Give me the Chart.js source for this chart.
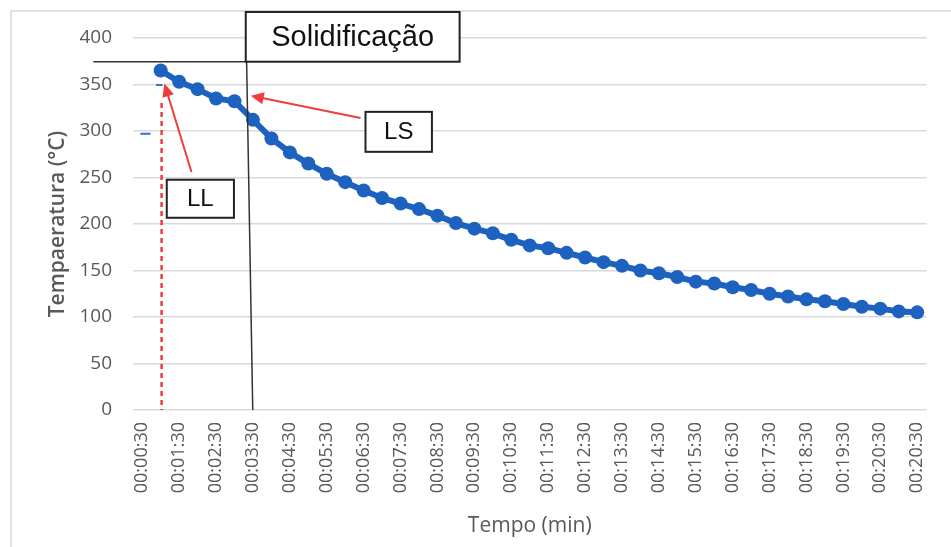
<!DOCTYPE html>
<html>
<head>
<meta charset="utf-8">
<script src="https://cdn.jsdelivr.net/npm/chart.js@4"></script>
<style>
  html, body { margin: 0; padding: 0; background: #fff; }
  #wrap { width: 951px; height: 547px; }
</style>
</head>
<body>
<div id="wrap"><canvas id="myChart" width="951" height="547"></canvas></div>
<script>
// tick labels shown on the x axis (one every two readings)
var tickLabels = [
    '00:00:30', '00:01:30', '00:02:30', '00:03:30', '00:04:30', '00:05:30',
    '00:06:30', '00:07:30', '00:08:30', '00:09:30', '00:10:30', '00:11:30',
    '00:12:30', '00:13:30', '00:14:30', '00:15:30', '00:16:30', '00:17:30',
    '00:18:30', '00:19:30', '00:20:30', '00:20:30'
];

// temperature readings (°C), first slot empty
var temps = [
    null, 365, 353, 345, 335, 332, 312, 292, 277, 265, 254,
    245, 236, 228, 222, 216, 209, 201, 195, 190, 183,
    177, 174, 169, 164, 159, 155, 150, 147, 143, 138,
    136, 132, 129, 125, 122, 119, 117, 114, 111, 109,
    106, 105
];

var categories = temps.map(function (t, i) {
    return i % 2 === 0 ? tickLabels[i / 2] : '';
});

var grey = '#595959';
var red = '#f03c3c';

function arrow(ctx, x1, y1, x2, y2) {
    var a = Math.atan2(y2 - y1, x2 - x1);
    var len = 13, w = 6;
    ctx.strokeStyle = red;
    ctx.fillStyle = red;
    ctx.lineWidth = 2;
    ctx.beginPath();
    ctx.moveTo(x1, y1);
    ctx.lineTo(x2 - Math.cos(a) * len * 0.8, y2 - Math.sin(a) * len * 0.8);
    ctx.stroke();
    ctx.beginPath();
    ctx.moveTo(x2, y2);
    ctx.lineTo(x2 - Math.cos(a) * len + Math.sin(a) * w, y2 - Math.sin(a) * len - Math.cos(a) * w);
    ctx.lineTo(x2 - Math.cos(a) * len - Math.sin(a) * w, y2 - Math.sin(a) * len + Math.cos(a) * w);
    ctx.closePath();
    ctx.fill();
}

function box(ctx, x1, y1, x2, y2, text, size) {
    ctx.fillStyle = '#fff';
    ctx.fillRect(x1, y1, x2 - x1, y2 - y1);
    ctx.strokeStyle = '#222';
    ctx.lineWidth = 2;
    ctx.strokeRect(x1, y1, x2 - x1, y2 - y1);
    ctx.fillStyle = '#111';
    ctx.font = size + 'px "Liberation Sans", Arial, sans-serif';
    ctx.textAlign = 'center';
    ctx.textBaseline = 'middle';
    ctx.fillText(text, (x1 + x2) / 2, (y1 + y2) / 2 + 1);
}

var frame = {
    id: 'frame',
    beforeDraw: function (chart) {
        var ctx = chart.ctx;
        ctx.save();
        ctx.strokeStyle = '#d9d9d9';
        ctx.lineWidth = 1.5;
        ctx.beginPath();
        ctx.moveTo(11, 547);
        ctx.lineTo(11, 11);
        ctx.lineTo(951, 11);
        ctx.stroke();
        ctx.restore();
    }
};

var notes = {
    id: 'notes',
    afterDatasetsDraw: function (chart) {
        var ctx = chart.ctx;
        var xs = chart.scales.x, ys = chart.scales.y;
        var px = function (i) { return xs.getPixelForValue(i); };
        var py = function (v) { return ys.getPixelForValue(v); };
        ctx.save();

        // liquidus: red dashed drop line
        ctx.strokeStyle = red;
        ctx.lineWidth = 2.5;
        ctx.setLineDash([5, 4]);
        ctx.beginPath();
        ctx.moveTo(px(1.05), py(330));
        ctx.lineTo(px(1.05), py(0));
        ctx.stroke();
        ctx.setLineDash([]);

        // small blue marks
        ctx.strokeStyle = '#3a6fd0';
        ctx.lineWidth = 2;
        ctx.beginPath();
        ctx.moveTo(px(-0.1), py(297));
        ctx.lineTo(px(0.45), py(297));
        ctx.moveTo(px(0.75), py(349.5));
        ctx.lineTo(px(1.1), py(349.5));
        ctx.stroke();

        // solidification: black vertical + horizontal lines
        ctx.strokeStyle = '#333';
        ctx.lineWidth = 1.5;
        ctx.beginPath();
        ctx.moveTo(px(5.61), py(428));
        ctx.lineTo(px(5.99), py(0));
        ctx.moveTo(px(-2.65), py(374.5));
        ctx.lineTo(px(5.61), py(374.5));
        ctx.stroke();

        arrow(ctx, px(2.67), py(256), px(1.2), py(351));
        arrow(ctx, px(11.83), py(314), px(5.88), py(338));

        box(ctx, px(5.61), py(428), px(17.2), py(374.5), 'Solidificação', 29);
        box(ctx, px(12.1), py(320.6), px(15.7), py(277.6), 'LS', 24);
        box(ctx, px(1.33), py(247.6), px(4.97), py(206.7), 'LL', 24);
        ctx.restore();
    }
};

var ctx = document.getElementById('myChart').getContext('2d');
var chart = new Chart(ctx, {
    type: 'line',
    data: {
        labels: categories,
        datasets: [
            {
                label: 'Temperatura',
                data: temps,
                borderColor: '#1d62be',
                backgroundColor: '#1d62be',
                borderWidth: 6,
                pointRadius: 7,
                pointBorderWidth: 0,
                tension: 0
            }
        ]
    },
    options: {
        responsive: false,
        animation: false,
        layout: {
            padding: { left: 0, right: 16, top: 38, bottom: 0 }
        },
        plugins: {
            legend: { display: false },
            tooltip: { enabled: false }
        },
        scales: {
            x: {
                offset: true,
                grid: { display: false, drawTicks: false },
                border: { display: false },
                ticks: {
                    autoSkip: false,
                    minRotation: 90,
                    maxRotation: 90,
                    padding: 12,
                    color: grey,
                    font: { family: '"Open Sans", sans-serif', size: 18 }
                },
                title: {
                    display: true,
                    text: 'Tempo (min)',
                    color: grey,
                    padding: { top: 0, bottom: 8 },
                    font: { family: '"Open Sans", sans-serif', size: 21 }
                },
                afterFit: function (scale) { scale.height = 137; }
            },
            y: {
                min: 0,
                max: 400,
                ticks: {
                    stepSize: 50,
                    padding: 21,
                    color: grey,
                    font: { family: '"Open Sans", sans-serif', size: 19 }
                },
                grid: { color: '#d9d9d9', lineWidth: 1.5, drawTicks: false },
                border: { display: false },
                title: {
                    display: true,
                    text: 'Tempaeratura (°C)',
                    color: grey,
                    padding: { top: 45, bottom: 0 },
                    font: { family: '"Open Sans", sans-serif', size: 21, weight: '600' }
                },
                afterFit: function (scale) { scale.width = 133; }
            }
        }
    },
    plugins: [frame, notes]
});
</script>
</body>
</html>
